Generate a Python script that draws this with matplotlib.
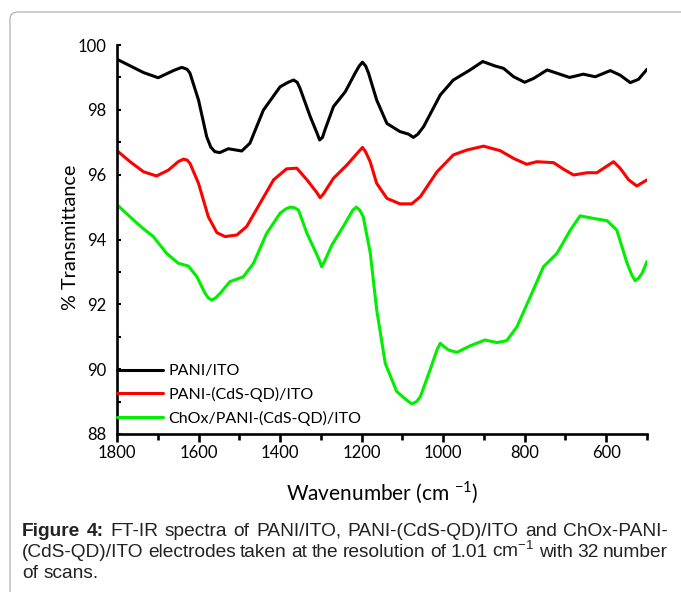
import matplotlib
matplotlib.use('Agg')
import matplotlib.pyplot as plt
from matplotlib.patches import FancyBboxPatch
from matplotlib.ticker import MultipleLocator

plt.rcParams['font.family'] = ['Lato', 'DejaVu Sans']
plt.rcParams['mathtext.fontset'] = 'custom'
plt.rcParams['mathtext.rm'] = 'Lato'

# ---- data (wavenumber cm-1, % transmittance) ----
pani_wn = [1800, 1735, 1699, 1660, 1641, 1628, 1621, 1600, 1580, 1570, 1560, 1548, 1527,
           1494, 1474, 1441, 1400, 1380, 1367, 1358, 1351, 1326, 1310, 1303, 1296, 1290,
           1269, 1240, 1216, 1206, 1198, 1190, 1183, 1163, 1138, 1106, 1085, 1073, 1062,
           1048, 1007, 975, 934, 903, 872, 852, 827, 800, 778, 745, 721, 690, 656, 627,
           590, 566, 541, 521, 500]
pani_t = [99.56, 99.15, 98.99, 99.22, 99.31, 99.25, 99.13, 98.30, 97.17, 96.85, 96.71, 96.68, 96.80,
          96.73, 96.97, 97.99, 98.71, 98.85, 98.92, 98.85, 98.66, 97.79, 97.30, 97.07, 97.15, 97.38,
          98.10, 98.56, 99.13, 99.35, 99.47, 99.35, 99.13, 98.30, 97.58, 97.33, 97.25, 97.15, 97.25,
          97.48, 98.46, 98.92, 99.23, 99.49, 99.35, 99.28, 99.02, 98.85, 98.97, 99.23, 99.13, 99.00,
          99.10, 99.02, 99.21, 99.07, 98.84, 98.94, 99.25]

cds_wn = [1800, 1768, 1735, 1703, 1674, 1650, 1637, 1628, 1621, 1600, 1576, 1555, 1535,
          1506, 1482, 1449, 1416, 1384, 1359, 1334, 1310, 1302, 1294, 1269, 1236, 1208,
          1198, 1190, 1179, 1163, 1138, 1106, 1077, 1056, 1015, 975, 942, 901, 860, 827,
          795, 770, 729, 705, 680, 647, 623, 582, 566, 545, 525, 500]
cds_t = [96.74, 96.40, 96.09, 95.96, 96.14, 96.40, 96.48, 96.45, 96.35, 95.73, 94.70, 94.21, 94.09,
         94.14, 94.40, 95.12, 95.84, 96.18, 96.20, 95.84, 95.45, 95.29, 95.40, 95.89, 96.30, 96.70,
         96.84, 96.70, 96.40, 95.73, 95.27, 95.10, 95.10, 95.32, 96.09, 96.61, 96.76, 96.88, 96.74,
         96.50, 96.32, 96.40, 96.37, 96.17, 95.99, 96.06, 96.06, 96.40, 96.20, 95.84, 95.65, 95.84]

chox_wn = [1800, 1768, 1740, 1711, 1678, 1650, 1625, 1604, 1584, 1576, 1568, 1558, 1547,
           1523, 1490, 1465, 1433, 1400, 1385, 1375, 1365, 1355, 1334, 1305, 1298, 1290,
           1273, 1245, 1222, 1213, 1204, 1196, 1179, 1163, 1142, 1114, 1090, 1077, 1065,
           1056, 1032, 1015, 1007, 998, 987, 966, 934, 897, 868, 844, 819, 786, 754, 721,
           688, 664, 631, 598, 574, 549, 537, 529, 521, 512, 500]
chox_t = [95.07, 94.70, 94.38, 94.09, 93.57, 93.27, 93.18, 92.85, 92.34, 92.20, 92.13, 92.20, 92.34,
          92.70, 92.85, 93.27, 94.19, 94.81, 94.95, 95.00, 94.98, 94.91, 94.19, 93.40, 93.16, 93.35,
          93.83, 94.40, 94.90, 95.00, 94.90, 94.70, 93.60, 91.83, 90.18, 89.31, 89.05, 88.93, 89.00,
          89.15, 89.98, 90.60, 90.80, 90.70, 90.59, 90.52, 90.72, 90.90, 90.82, 90.88, 91.31, 92.24,
          93.16, 93.57, 94.29, 94.73, 94.65, 94.58, 94.29, 93.27, 92.90, 92.73, 92.80, 92.96, 93.32]

labels = ['PANI/ITO', 'PANI-(CdS-QD)/ITO', 'ChOx/PANI-(CdS-QD)/ITO']
colors = ['black', '#ff0000', '#00ee00']

W, H = 681, 592
fig = plt.figure(figsize=(W / 100, H / 100), dpi=100)


def fx(px):
    return px / W


def fy(py):
    return 1 - py / H


# rounded frame around the whole figure (clipped at right/bottom)
frame = FancyBboxPatch((fx(10), fy(700)), fx(700), fy(12) - fy(700),
                       boxstyle='round,pad=0,rounding_size=0.012',
                       transform=fig.transFigure, facecolor='none',
                       edgecolor='#b0b0b0', linewidth=0.9)
fig.patches.append(frame)

ax = fig.add_axes([fx(117), fy(434), fx(647) - fx(117), fy(45) - fy(434)])

for wn, t, lab, c in zip([pani_wn, cds_wn, chox_wn], [pani_t, cds_t, chox_t], labels, colors):
    ax.plot(wn, t, color=c, linewidth=2.2, label=lab,
            solid_joinstyle='round', solid_capstyle='round')

ax.set_xlim(1800, 500)
ax.set_ylim(88, 100)
ax.xaxis.set_major_locator(MultipleLocator(200))
ax.xaxis.set_minor_locator(MultipleLocator(100))
ax.yaxis.set_major_locator(MultipleLocator(2))
ax.yaxis.set_minor_locator(MultipleLocator(1))

for s in ['top', 'right']:
    ax.spines[s].set_visible(False)
for s in ['left', 'bottom']:
    ax.spines[s].set_linewidth(1.9)

ax.tick_params(axis='x', which='major', direction='out', length=6, width=1.9,
               labelsize=12, pad=2)
ax.tick_params(axis='x', which='minor', direction='out', length=4, width=1.9)
ax.tick_params(axis='y', which='major', direction='in', length=3, width=1.5,
               labelsize=12, pad=7.5)
ax.tick_params(axis='y', which='minor', direction='in', length=3, width=1.5)

ax.set_ylabel('% Transmittance', fontsize=14.3)
ax.yaxis.set_label_coords(-0.072, 0.505)
ax.set_xlabel('Wavenumber (cm $^{\\mathregular{-1}}$)', fontsize=15)
ax.xaxis.set_label_coords(0.5, -0.118)

ax.legend(loc='upper left', bbox_to_anchor=(0, (434 - 364) / (434 - 45)),
          frameon=False, fontsize=11.5, handlelength=2.9, handletextpad=0.3,
          borderpad=0, borderaxespad=0, labelspacing=0.55)

# ---- justified caption ----
cap_lines = [
    [('Figure', True), ('4:', True), ('FT-IR', False), ('spectra', False), ('of', False),
     ('PANI/ITO,', False), ('PANI-(CdS-QD)/ITO', False), ('and', False), ('ChOx-PANI-', False)],
    [('(CdS-QD)/ITO', False), ('electrodes', False), ('taken', False), ('at', False),
     ('the', False), ('resolution', False), ('of', False), ('1.01', False),
     ('cm$^{\\mathregular{-1}}$', False), ('with', False), ('32', False), ('number', False)],
    [('of', False), ('scans.', False)],
]
cap_base = [536, 557, 578]
cap_justify = [True, True, False]
x_left, x_right = 22, 668

renderer = fig.canvas.get_renderer()
for words, yb, just in zip(cap_lines, cap_base, cap_justify):
    objs = []
    for w, bold in words:
        t = fig.text(fx(x_left), fy(yb), w, fontsize=13.8, color='#222222',
                     fontweight='bold' if bold else 'normal', va='baseline', ha='left',
                     family=['Liberation Sans', 'DejaVu Sans'],
                     math_fontfamily='custom')
        objs.append(t)
    widths = [o.get_window_extent(renderer).width for o in objs]
    if just and len(objs) > 1:
        gap = (x_right - x_left - sum(widths)) / (len(objs) - 1)
    else:
        gap = 5.5
    x = x_left
    for o, w in zip(objs, widths):
        o.set_x(fx(x))
        x += w + gap

fig.savefig('out.png', dpi=100)
